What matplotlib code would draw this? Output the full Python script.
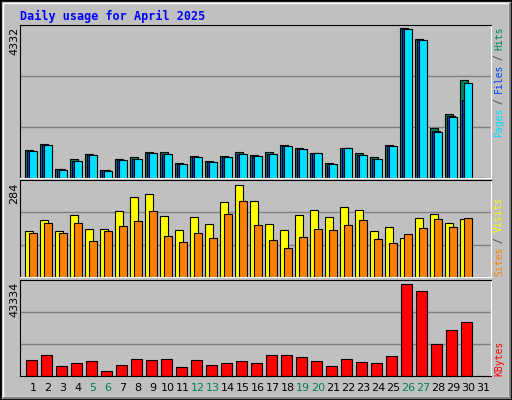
import matplotlib
matplotlib.use("Agg")
import matplotlib.pyplot as plt
from matplotlib.patches import Rectangle
import numpy as np

days = list(range(1, 32))
hits = [804, 980, 274, 539, 686, 245, 539, 608, 755, 755, 421, 637, 490, 637, 755, 666, 755, 960, 872, 715, 421, 872, 715, 608, 960, 4332, 4008, 1431, 1842, 2842, 0]
files = [780, 960, 255, 500, 665, 225, 520, 560, 725, 700, 400, 610, 465, 610, 700, 640, 700, 935, 845, 715, 400, 872, 670, 555, 935, 4310, 3990, 1370, 1790, 2254, 0]
pages = [774, 951, 245, 480, 657, 216, 510, 539, 715, 686, 392, 598, 451, 598, 686, 627, 686, 921, 833, 715, 392, 872, 657, 539, 921, 4303, 3979, 1333, 1774, 2744, 0]
sites = [142, 177, 142, 191, 148, 148, 204, 247, 256, 188, 145, 185, 164, 232, 284, 235, 164, 145, 191, 207, 185, 216, 207, 142, 154, 120, 182, 194, 167, 179, 0]
visits = [136, 167, 136, 167, 111, 142, 157, 173, 204, 127, 108, 136, 120, 194, 235, 161, 114, 90, 123, 148, 145, 161, 176, 117, 105, 133, 151, 179, 154, 182, 0]
kbytes = [7750, 10124, 4904, 6328, 7277, 2531, 5379, 8226, 7750, 8226, 4429, 7750, 5379, 6328, 7277, 6328, 10124, 10124, 9175, 7277, 4904, 8226, 6803, 6328, 9650, 43334, 40025, 14871, 21515, 25312, 0]
weekend = [5, 6, 12, 13, 19, 20, 26, 27]

W, H = 512, 400
fig = plt.figure(figsize=(W/100, H/100), dpi=100)
fig.patch.set_facecolor("#C0C0C0")
fig.add_artist(Rectangle((0, 0), 1, 1, transform=fig.transFigure, fill=False, ec="black", lw=2))
fig.add_artist(Rectangle((3/W, 3/H), 1-6/W, 1-6/H, transform=fig.transFigure, fill=False, ec="white", lw=1))
fig.add_artist(Rectangle((3/W, 1/H), 1-4/W, 2/H, transform=fig.transFigure, color="#808080", lw=0))
fig.add_artist(Rectangle((1-3/W, 1/H), 2/W, 1-4/H, transform=fig.transFigure, color="#808080", lw=0))

def ax_px(x0, y0, x1, y1):
    return fig.add_axes([x0/W, 1-y1/H, (x1-x0)/W, (y1-y0)/H])

XL = (1-13/15, 1-13/15+471/15)
mono = "DejaVu Sans Mono"

def setup(ax, ymax):
    ax.set_facecolor("#C0C0C0")
    ax.set_xlim(*XL)
    ax.set_ylim(0, ymax)
    ax.set_xticks([]); ax.set_yticks([])
    for f in (1/3, 2/3):
        ax.axhline(ymax*f, color="#808080", lw=1, zorder=0)
    ax.spines["top"].set_color("black"); ax.spines["left"].set_color("black")
    ax.spines["bottom"].set_color("white"); ax.spines["right"].set_color("white")

d = np.array(days)
bw = 8/15
ax1 = ax_px(20, 25, 491, 178)
ymax1 = 4332*151/148
setup(ax1, ymax1)
ax1.bar(d-0.53, hits, width=bw, align="edge", color="#00805C", ec="black", lw=0.8)
ax1.bar(d-0.40, files, width=bw, align="edge", color="#0040FF", ec="black", lw=0.8)
ax1.bar(d-0.27, pages, width=bw, align="edge", color="#00E0FF", ec="black", lw=0.8)
ax2 = ax_px(20, 180, 491, 277)
ymax2 = 284*98/93
setup(ax2, ymax2)
ax2.bar(d-0.53, sites, width=bw, align="edge", color="#FFFF00", ec="black", lw=0.8)
ax2.bar(d-0.27, visits, width=bw, align="edge", color="#FF8000", ec="black", lw=0.8)
ax3 = ax_px(20, 280, 491, 376)
ymax3 = 43334*96/92
setup(ax3, ymax3)
ax3.bar(d-0.47, kbytes, width=11/15, align="edge", color="#FF0000", ec="black", lw=0.8)
ax3.spines["bottom"].set_color("black")

for day in days:
    ax3.text(day, -0.13, str(day), transform=ax3.get_xaxis_transform(), ha="center", va="center",
             fontsize=8, color="#00805C" if day in weekend else "black")

fig.text(20/W, 1-16/H, "Daily usage for April 2025", color="#0000FF", fontsize=8.5, fontweight="bold",
         family=mono, va="center", ha="left")
for ytop, lab in ((27, "4332"), (183, "284"), (282, "43334")):
    fig.text(14/W, 1-ytop/H, lab, rotation=90, ha="center", va="top", fontsize=8)

def right_label(ybottom, parts):
    y = ybottom
    for txt, col in parts:
        fig.text(499/W, 1-y/H, txt, rotation=90, ha="center", va="bottom",
                 fontsize=7, color=col, family=mono)
        y -= len(txt) * 5.45
right_label(137, [("Pages", "#00E0FF"), (" / ", "#404040"), ("Files", "#0040FF"), (" / ", "#404040"), ("Hits", "#00805C")])
right_label(276, [("Sites", "#FF8000"), (" / ", "#404040"), ("Visits", "#FFFF00")])
right_label(376, [("KBytes", "#FF0000")])

fig.savefig("out.png", dpi=100, facecolor=fig.get_facecolor())
